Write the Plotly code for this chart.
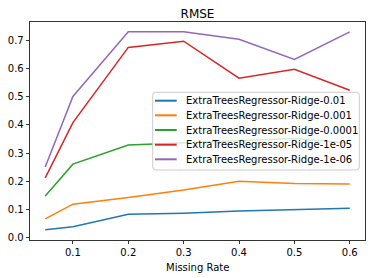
import plotly.graph_objects as go

missing_rate = [0.05, 0.1, 0.2, 0.3, 0.4, 0.5, 0.6]
series_names = [
    "ExtraTreesRegressor-Ridge-0.01",
    "ExtraTreesRegressor-Ridge-0.001",
    "ExtraTreesRegressor-Ridge-0.0001",
    "ExtraTreesRegressor-Ridge-1e-05",
    "ExtraTreesRegressor-Ridge-1e-06",
]
rmse_0_01 = [0.028, 0.039, 0.083, 0.087, 0.095, 0.100, 0.105]
rmse_0_001 = [0.067, 0.119, 0.143, 0.169, 0.200, 0.192, 0.191]
rmse_0_0001 = [0.148, 0.261, 0.329, 0.337, 0.346, 0.352, 0.335]
rmse_1e_05 = [0.212, 0.408, 0.675, 0.697, 0.566, 0.597, 0.523]
rmse_1e_06 = [0.251, 0.501, 0.730, 0.730, 0.704, 0.632, 0.730]
colors = ["#1f77b4", "#ff7f0e", "#2ca02c", "#d62728", "#9467bd"]
x_ticks = [0.1, 0.2, 0.3, 0.4, 0.5, 0.6]
y_ticks = [0.0, 0.1, 0.2, 0.3, 0.4, 0.5, 0.6, 0.7]

all_series = [rmse_0_01, rmse_0_001, rmse_0_0001, rmse_1e_05, rmse_1e_06]

W, H = 372, 278
ML, MR, MT, MB = 30, 7, 22, 38
PW, PH = W - ML - MR, H - MT - MB


def px_x(px):
    return (px - ML) / PW


def px_y(py):
    return (H - MB - py) / PH


fig = go.Figure()
for name, vals, c in zip(series_names, all_series, colors):
    fig.add_trace(go.Scatter(x=missing_rate, y=vals, mode="lines", name=name,
                             line=dict(color=c, width=1.5), showlegend=False))

font = "DejaVu Sans, Verdana, sans-serif"
axis_common = dict(showgrid=False, zeroline=False, showline=True, linecolor="black",
                   linewidth=0.8, mirror=True, ticks="outside", ticklen=3.5,
                   tickwidth=0.8, tickcolor="black", automargin=False,
                   tickfont=dict(family=font, size=10, color="black"))

# Legend box (matplotlib-style, rounded, semi-transparent)
bx0, bx1, by0, by1, r = 152.7, 359.3, 92.3, 170.0, 3.0
X = px_x
Y = px_y
path = (f"M {X(bx0 + r)},{Y(by0)} L {X(bx1 - r)},{Y(by0)} "
        f"Q {X(bx1)},{Y(by0)} {X(bx1)},{Y(by0 + r)} "
        f"L {X(bx1)},{Y(by1 - r)} Q {X(bx1)},{Y(by1)} {X(bx1 - r)},{Y(by1)} "
        f"L {X(bx0 + r)},{Y(by1)} Q {X(bx0)},{Y(by1)} {X(bx0)},{Y(by1 - r)} "
        f"L {X(bx0)},{Y(by0 + r)} Q {X(bx0)},{Y(by0)} {X(bx0 + r)},{Y(by0)} Z")
shapes = [dict(type="path", xref="paper", yref="paper", path=path,
               fillcolor="rgba(255,255,255,0.8)", line=dict(color="#cccccc", width=1),
               layer="above")]
annotations = []
entry_y = [100.7, 115.3, 130.0, 144.7, 159.3]
for name, c, ey in zip(series_names, colors, entry_y):
    shapes.append(dict(type="line", xref="paper", yref="paper",
                       x0=X(155.0), x1=X(176.7), y0=Y(ey), y1=Y(ey),
                       line=dict(color=c, width=2), layer="above"))
    annotations.append(dict(xref="paper", yref="paper", x=X(184.0), y=Y(ey),
                            xanchor="left", yanchor="middle", showarrow=False,
                            text=name, font=dict(family=font, size=10, color="black")))

annotations.append(dict(xref="paper", yref="paper", x=0.5, y=Y(267.0),
                        xanchor="center", yanchor="middle", showarrow=False,
                        text="Missing Rate", font=dict(family=font, size=10, color="black")))

fig.update_layout(
    width=W, height=H,
    margin=dict(l=ML, r=MR, t=MT, b=MB, autoexpand=False),
    paper_bgcolor="white", plot_bgcolor="white",
    title=dict(text="RMSE", x=(ML + PW / 2) / W, xanchor="center",
               y=1 - 13.5 / H, yanchor="middle",
               font=dict(family=font, size=12, color="black")),
    xaxis=dict(range=[0.0225, 0.6275], tickvals=x_ticks,
               ticktext=[str(v) for v in x_ticks], **axis_common),
    yaxis=dict(range=[-0.008, 0.765], tickvals=y_ticks,
               ticktext=[f"{v:.1f}" for v in y_ticks], **axis_common),
    shapes=shapes,
    annotations=annotations,
    showlegend=False,
)
fig.write_html("out.html", config={"displayModeBar": False, "staticPlot": True},
               post_script="document.body.style.margin='0';document.body.style.padding='0';"
                           "document.body.style.overflow='hidden';")
